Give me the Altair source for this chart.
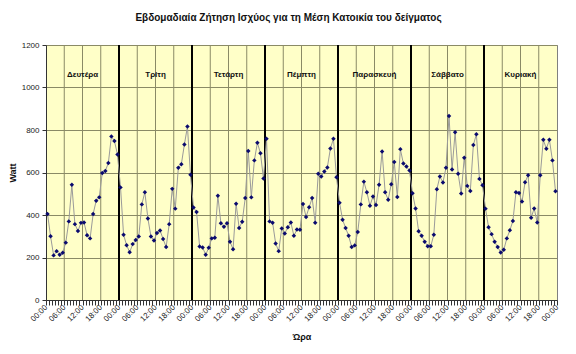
import altair as alt
import pandas as pd

title_text = "Εβδομαδιαία Ζήτηση Ισχύος για τη Μέση Κατοικία του δείγματος"
days = ["Δευτέρα", "Τρίτη", "Τετάρτη", "Πέμπτη", "Παρασκευή", "Σάββατο", "Κυριακή"]
hour_labels = ["00:00", "06:00", "12:00", "18:00"]
y_ticks = [0, 200, 400, 600, 800, 1000, 1200]

mon = [405, 300, 210, 230, 213, 222, 270, 370, 542, 357, 325, 363, 365, 305, 290, 405, 467, 483, 598, 607, 645, 770, 748, 685]
tue = [530, 307, 258, 225, 263, 282, 299, 450, 507, 384, 299, 280, 315, 327, 287, 249, 357, 523, 430, 622, 639, 732, 816, 589]
wed = [435, 414, 252, 247, 213, 246, 290, 293, 491, 361, 345, 361, 274, 239, 453, 339, 368, 480, 701, 483, 657, 740, 691, 572]
thu = [759, 370, 364, 266, 230, 337, 313, 342, 365, 302, 332, 331, 452, 391, 436, 480, 364, 594, 581, 605, 624, 713, 759, 578]
fri = [458, 378, 339, 302, 249, 257, 320, 450, 557, 507, 444, 487, 447, 542, 699, 507, 472, 545, 649, 485, 710, 642, 628, 609]
sat = [502, 431, 324, 302, 274, 253, 253, 307, 521, 581, 553, 622, 866, 614, 789, 594, 501, 669, 537, 513, 729, 780, 570, 540]
sun = [430, 342, 310, 274, 249, 224, 236, 290, 328, 372, 507, 504, 463, 554, 587, 387, 431, 365, 587, 754, 712, 754, 657, 512]

series = mon + tue + wed + thu + fri + sat + sun
n_hours = len(series)

df = pd.DataFrame({"h": [i + 0.5 for i in range(n_hours)], "w": series})
grid6 = pd.DataFrame({"g": [v for v in range(6, n_hours, 6) if v % 24 != 0]})
grid24 = pd.DataFrame({"g": list(range(24, n_hours, 24))})
day_df = pd.DataFrame({"day": days, "c": [24 * i + 12 for i in range(len(days))]})

FONT = "Liberation Sans"
lab_arr = "[" + ",".join("'%s'" % s for s in hour_labels) + "]"

xscale = alt.Scale(domain=[0, n_hours], nice=False, zero=False)
yscale = alt.Scale(domain=[0, 1200], nice=False)

xaxis = alt.Axis(
    title="Ώρα", values=list(range(0, n_hours + 1)),
    labelExpr="datum.value % 6 == 0 ? " + lab_arr + "[(datum.value % 24) / 6] : ''",
    labelAngle=315, labelAlign="right", labelBaseline="middle",
    labelOverlap=False, labelBound=False, labelFlush=False,
    labelFontSize=8, labelFont=FONT, labelColor="#222222",
    labelPadding=1, tickSize=5, tickColor="#333333", domainColor="#333333",
    grid=False, titleFont=FONT, titleFontSize=9, titleFontWeight="bold",
    titleColor="#111111", titlePadding=10,
)
yaxis = alt.Axis(
    title="Watt", values=y_ticks, format="d", labelFontSize=8, labelFont=FONT,
    labelColor="#222222", tickSize=4, tickColor="#333333", domainColor="#333333",
    labelPadding=3, grid=True, gridColor="#8a8a66", gridWidth=1,
    titleFont=FONT, titleFontSize=9, titleFontWeight="bold", titleColor="#111111",
    titlePadding=4,
)

X = lambda f: alt.X(f, type="quantitative", scale=xscale, axis=xaxis)
Y = lambda f: alt.Y(f, type="quantitative", scale=yscale, axis=yaxis)

vgrid = alt.Chart(grid6).mark_rule(color="#8a8a66", strokeWidth=1).encode(
    x=X("g"), y=alt.value(0), y2=alt.value(255)
)
dgrid = alt.Chart(grid24).mark_rule(color="#000000", strokeWidth=2).encode(
    x=X("g"), y=alt.value(0), y2=alt.value(255)
)
line = alt.Chart(df).mark_line(color="#9a9a9a", strokeWidth=1).encode(
    x=X("h"), y=Y("w"),
)
pts = alt.Chart(df).mark_point(shape="diamond", filled=True, color="#0a0a6e", size=20, opacity=1).encode(
    x=X("h"), y=Y("w"),
)
labels = alt.Chart(day_df).mark_text(
    font=FONT, fontSize=8, fontWeight="bold", color="#111111", baseline="middle"
).encode(
    x=X("c"),
    y=alt.value(30),
    text="day:N",
)

chart = alt.layer(vgrid, dgrid, line, pts, labels).properties(
    width=511, height=255,
    title=alt.TitleParams(title_text, font=FONT, fontSize=10, fontWeight="bold",
                          color="#111111", anchor="middle", dx=-13, offset=18),
    autosize=alt.AutoSizeParams(type="none"),
    padding={"left": 46, "top": 45, "right": 19, "bottom": 54},
    background="white",
).configure_view(fill="#ffffc8", stroke="#808080", strokeWidth=1)

chart.save("out.html", embed_options={"renderer": "svg", "actions": False})
